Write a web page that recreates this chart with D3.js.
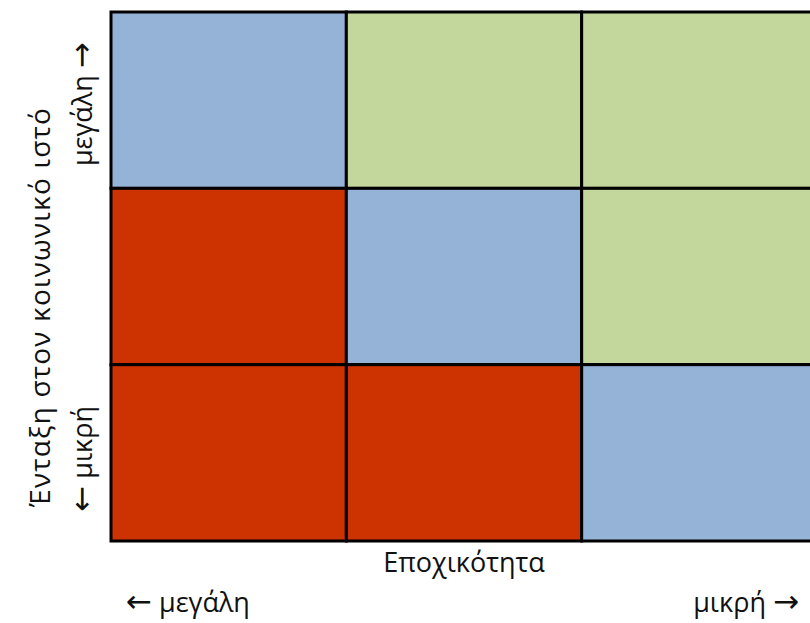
<!DOCTYPE html>
<html>
<head>
<meta charset="utf-8">
<script src="https://cdn.jsdelivr.net/npm/d3@7"></script>
<style>
  html, body { margin: 0; padding: 0; background: #fff; overflow: hidden; }
  text { font-family: "Open Sans", "Noto Sans", sans-serif; fill: #111; }
  tspan.arrow { font-family: "DejaVu Sans", sans-serif; font-size: 31px; }
</style>
</head>
<body>
<div id="chart"></div>
<script>
// Grid categories (top to bottom, left to right)
const rowLevels = ["μεγάλη", "μεσαία", "μικρή"];   // ένταξη στον κοινωνικό ιστό
const colLevels = ["μεγάλη", "μεσαία", "μικρή"];   // εποχικότητα

// Cell class per row, per column
const cellClasses = [
    ["ίσο", "υψηλό", "υψηλό"],
    ["χαμηλό", "ίσο", "υψηλό"],
    ["χαμηλό", "χαμηλό", "ίσο"]
];

const classNames = ["χαμηλό", "ίσο", "υψηλό"];
const classColors = ["#CC3300", "#95B3D7", "#C3D69B"];

const xTitle = "Εποχικότητα";
const yTitle = "Ένταξη στον κοινωνικό ιστό";

const width = 810, height = 623;
const fontSize = "27px";

const svg = d3.select("#chart")
    .append("svg")
    .attr("width", width)
    .attr("height", height);

// Scales for the grid (last column runs past the window edge)
const xScale = d3.scaleBand()
    .domain(colLevels.map((d, i) => i))
    .range([111, 817]);

const yScale = d3.scaleBand()
    .domain(rowLevels.map((d, i) => i))
    .range([12, 541]);

const colorScale = d3.scaleOrdinal()
    .domain(classNames)
    .range(classColors);

// Flatten cells
const cells = [];
cellClasses.forEach((row, r) => {
    row.forEach((c, k) => cells.push({ r: r, c: k, cls: c }));
});

svg.selectAll("rect.cell")
    .data(cells)
    .enter()
    .append("rect")
    .attr("class", "cell")
    .attr("x", d => xScale(d.c))
    .attr("y", d => yScale(d.r))
    .attr("width", xScale.bandwidth())
    .attr("height", yScale.bandwidth())
    .attr("fill", d => colorScale(d.cls))
    .attr("stroke", "#000")
    .attr("stroke-width", 3);

// helper: label with an arrow before or after the word
function arrowLabel(sel, word, arrow, arrowFirst) {
    if (arrowFirst) {
        sel.append("tspan").attr("class", "arrow").text(arrow);
        sel.append("tspan").text(" " + word);
    } else {
        sel.append("tspan").text(word + " ");
        sel.append("tspan").attr("class", "arrow").text(arrow);
    }
    return sel;
}

// X axis title and end labels
svg.append("text")
    .attr("x", (xScale.range()[0] + xScale.range()[1]) / 2)
    .attr("y", 572)
    .attr("text-anchor", "middle")
    .attr("font-size", fontSize)
    .text(xTitle);

arrowLabel(svg.append("text")
    .attr("x", 126)
    .attr("y", 612)
    .attr("text-anchor", "start")
    .attr("font-size", fontSize), colLevels[0], "\u2190", true);

arrowLabel(svg.append("text")
    .attr("x", 799)
    .attr("y", 612)
    .attr("text-anchor", "end")
    .attr("font-size", fontSize), colLevels[2], "\u2192", false);

// Y axis title and end labels (rotated)
svg.append("text")
    .attr("transform", "translate(50,307) rotate(-90)")
    .attr("text-anchor", "middle")
    .attr("font-size", "28px")
    .attr("letter-spacing", "1.2px")
    .text(yTitle);

arrowLabel(svg.append("text")
    .attr("transform", "translate(92," + (yScale(0) + yScale.bandwidth() / 2 + 4) + ") rotate(-90)")
    .attr("text-anchor", "middle")
    .attr("font-size", fontSize), rowLevels[0], "\u2192", false);

arrowLabel(svg.append("text")
    .attr("transform", "translate(92," + (yScale(2) + yScale.bandwidth() / 2 + 6) + ") rotate(-90)")
    .attr("text-anchor", "middle")
    .attr("font-size", fontSize), rowLevels[2], "\u2190", true);
</script>
</body>
</html>
